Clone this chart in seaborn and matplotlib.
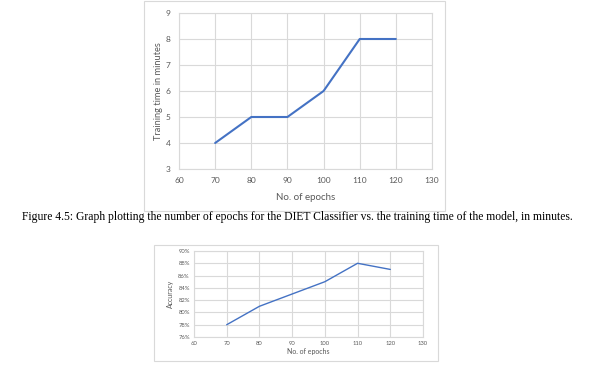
import matplotlib
matplotlib.use("Agg")
import matplotlib.pyplot as plt
import matplotlib.patches as patches
from matplotlib.ticker import FuncFormatter
import seaborn as sns

epochs = [70, 80, 90, 100, 110, 120]
train_minutes = [4, 5, 5, 6, 8, 8]
accuracy = [78, 81, 83, 85, 88, 87]

x_ticks = [60, 70, 80, 90, 100, 110, 120, 130]
time_ticks = [3, 4, 5, 6, 7, 8, 9]
acc_ticks = [76, 78, 80, 82, 84, 86, 88, 90]

caption = ("Figure 4.5: Graph plotting the number of epochs for the DIET Classifier "
           "vs. the training time of the model, in minutes.")

sns.set_style("white")
plt.rcParams["font.family"] = ["Lato", "DejaVu Sans"]

W, H = 603, 371
fig = plt.figure(figsize=(W / 100, H / 100), dpi=100)
grid_col = "#d9d9d9"
text_col = "#595959"


def box(x0, y0, x1, y1):
    # chart frame in pixel coords, y from the top
    fig.add_artist(patches.Rectangle((x0 / W, 1 - y1 / H), (x1 - x0) / W, (y1 - y0) / H,
                                     transform=fig.transFigure, fill=False,
                                     edgecolor=grid_col, linewidth=0.8))


def axes_px(x0, y0, x1, y1):
    return fig.add_axes([x0 / W, 1 - y1 / H, (x1 - x0) / W, (y1 - y0) / H])


def style(ax, size, pad):
    ax.grid(True, color=grid_col, linewidth=0.8)
    for s in ax.spines.values():
        s.set_color(grid_col)
        s.set_linewidth(0.8)
    ax.tick_params(length=0, labelsize=size, colors=text_col, pad=pad)


# top chart
box(144, 1, 445, 211)
ax1 = axes_px(179, 13, 432, 169)
sns.lineplot(x=epochs, y=train_minutes, ax=ax1, color="#4472C4", linewidth=1.5)
ax1.set_xlim(60, 130)
ax1.set_ylim(3, 9)
ax1.set_xticks(x_ticks)
ax1.set_yticks(time_ticks)
style(ax1, 6, 6)
ax1.set_xlabel("No. of epochs", fontsize=7, color=text_col, labelpad=6)
ax1.set_ylabel("Training time in minutes", fontsize=6.7, color=text_col, labelpad=2)

fig.text(297 / W, 1 - 217 / H, caption, ha="center", va="center",
         family="Liberation Serif", fontsize=8.4, color="black")

# bottom chart
box(154, 245, 438, 361)
ax2 = axes_px(194, 251, 423, 337)
sns.lineplot(x=epochs, y=accuracy, ax=ax2, color="#4472C4", linewidth=1)
ax2.set_xlim(60, 130)
ax2.set_ylim(76, 90)
ax2.set_xticks(x_ticks)
ax2.set_yticks(acc_ticks)
ax2.yaxis.set_major_formatter(FuncFormatter(lambda v, p: f"{v:.0f}%"))
style(ax2, 4.2, 3)
ax2.set_xlabel("No. of epochs", fontsize=5, color=text_col, labelpad=1)
ax2.set_ylabel("Accuracy", fontsize=5, color=text_col, labelpad=3)

fig.savefig("out.png", dpi=100)
